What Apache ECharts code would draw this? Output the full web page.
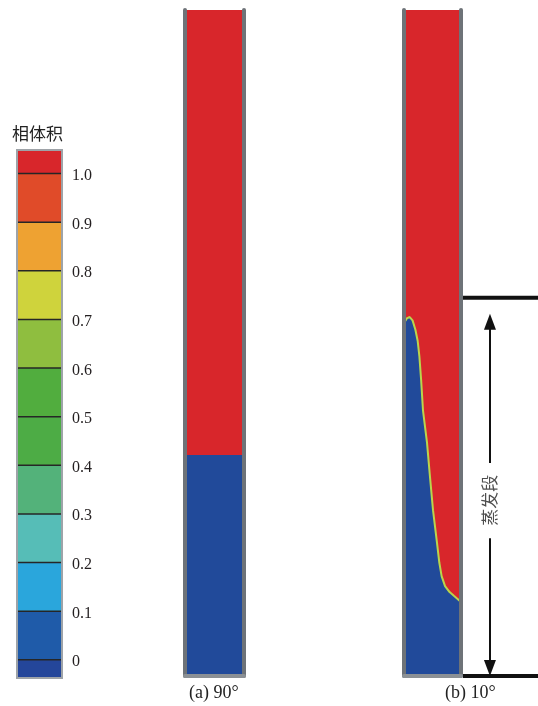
<!DOCTYPE html>
<html><head><meta charset="utf-8">
<script src="https://cdn.jsdelivr.net/npm/echarts@6/dist/echarts.min.js"></script>
<style>html,body{margin:0;padding:0;background:#fff}#c{width:538px;height:706px}</style>
</head><body><div id="c"></div>
<script>
// ---- colour bar ----
const cbTitle = '相体积';
const cbTicks = [0, 0.1, 0.2, 0.3, 0.4, 0.5, 0.6, 0.7, 0.8, 0.9, 1.0];
const cbLabels = ['0', '0.1', '0.2', '0.3', '0.4', '0.5', '0.6', '0.7', '0.8', '0.9', '1.0'];
const cbBounds = [-0.039, 0, 0.1, 0.2, 0.3, 0.4, 0.5, 0.6, 0.7, 0.8, 0.9, 1.0, 1.047];
const cbColors = ['#24469a', '#1f5ba9', '#2aa6dc', '#56bdb7', '#53b27a', '#4dac45',
                  '#51ad3e', '#8fbe3f', '#cfd33c', '#eea232', '#e04b29', '#d8262b'];
// ---- tube (a) 90° : liquid level (% of tube height) ----
const tubeACaption = '(a) 90°';
const tubeALiquid = 33.2;
// ---- tube (b) 10° : liquid/vapour interface, x = fraction of width, h = % of height ----
const tubeBCaption = '(b) 10°';
const tubeBx = [0, 0.05, 0.1, 0.15, 0.2, 0.24, 0.27, 0.30, 0.333, 0.404, 0.456, 0.509, 0.579, 0.62, 0.66, 0.72, 0.80, 0.88, 0.95, 1.0];
const tubeBh = [53.0, 53.7, 53.9, 53.4, 52.0, 50.3, 48.0, 44.5, 39.9, 35.0, 29.9, 24.9, 20.0, 17.0, 15.0, 13.5, 12.6, 12.0, 11.5, 11.1];
// ---- evaporator section annotation (% of tube height) ----
const evapLabel = '蒸发段';
const evapTop = 56.8;
const evapBottom = 0;
const arrowUpper = [32.0, 53.2];
const arrowLower = [20.7, 1.2];
const evapLabelH = 26.4;

const RED = '#d8262b', BLUE = '#214a9a';
const serif = 'Liberation Serif';
const cjk = 'Noto Sans CJK SC';

const hidden = { show: false };
function tubeX(grid) {
  return { type: 'value', gridIndex: grid, min: 0, max: 1, z: 5,
    axisLine: { show: true, onZero: false, lineStyle: { color: '#8b9095', width: 4 } },
    axisTick: hidden, axisLabel: hidden, splitLine: hidden };
}
function tubeY(grid, pos) {
  return { type: 'value', gridIndex: grid, min: 0, max: 100, position: pos, z: 5,
    axisLine: { show: true, onZero: false, lineStyle: { color: '#6e7378', width: 4 } },
    axisTick: hidden, axisLabel: hidden, splitLine: hidden };
}

const cbData = [];
for (let i = 0; i < cbColors.length; i++) {
  cbData.push({ value: [0.5, cbBounds[i], cbBounds[i + 1]], itemStyle: { color: cbColors[i] } });
}

const option = {
  animation: false,
  backgroundColor: '#fff',
  title: [
    { text: cbTitle, left: 12, top: 125, padding: 0,
      textStyle: { fontFamily: cjk, fontSize: 17, fontWeight: 'normal', color: '#222' } },
    { text: tubeACaption, left: 189, top: 684, padding: 0,
      textStyle: { fontFamily: serif, fontSize: 18, fontWeight: 'normal', color: '#222' } },
    { text: tubeBCaption, left: 445, top: 684, padding: 0,
      textStyle: { fontFamily: serif, fontSize: 18, fontWeight: 'normal', color: '#222' } }
  ],
  grid: [
    { left: 17, top: 150, width: 45, height: 528, show: true, z: 10,
      borderColor: '#9ea3a8', borderWidth: 2, backgroundColor: 'transparent' },
    { left: 185, top: 10, width: 59, height: 666 },
    { left: 404, top: 10, width: 57, height: 666 },
    { left: 459, top: 10, width: 79, height: 666 }
  ],
  xAxis: [
    { type: 'value', gridIndex: 0, min: 0, max: 1, show: false },
    tubeX(1), tubeX(2),
    { type: 'value', gridIndex: 3, min: 0, max: 1, show: false }
  ],
  yAxis: [
    { type: 'value', gridIndex: 0, min: cbBounds[0], max: cbBounds[cbBounds.length - 1], position: 'right',
      axisLine: hidden, axisTick: hidden, splitLine: hidden,
      axisLabel: { show: true, customValues: cbTicks, margin: 10,
        formatter: v => '{t|' + cbLabels[Math.round(v * 10)] + '}',
        rich: { t: { fontFamily: serif, fontSize: 16, color: '#231f20', padding: [6, 0, 0, 0] } },
        fontFamily: serif, fontSize: 16, color: '#231f20' } },
    tubeY(1, 'left'), tubeY(1, 'right'),
    tubeY(2, 'left'), tubeY(2, 'right'),
    { type: 'value', gridIndex: 3, min: 0, max: 100, show: false }
  ],
  series: [
    { type: 'custom', xAxisIndex: 0, yAxisIndex: 0, encode: { x: 0, y: [1, 2] },
      data: cbData,
      renderItem: (params, api) => {
        const lo = api.value(1), hi = api.value(2);
        const p0 = api.coord([0, hi]), p1 = api.coord([1, lo]);
        const children = [{ type: 'rect',
          shape: { x: p0[0], y: p0[1], width: p1[0] - p0[0], height: p1[1] - p0[1] },
          style: { fill: api.visual('color') } }];
        if (params.dataIndex < cbColors.length - 1) {
          children.push({ type: 'line', shape: { x1: p0[0], y1: p0[1], x2: p1[0], y2: p0[1] },
            style: { stroke: '#262626', lineWidth: 3 } });
        }
        return { type: 'group', children };
      } },
    // tube (a)
    { type: 'line', xAxisIndex: 1, yAxisIndex: 1, symbol: 'none', silent: true,
      data: [[0, 100], [1, 100]], lineStyle: { width: 0 }, areaStyle: { color: RED, opacity: 1 } },
    { type: 'line', xAxisIndex: 1, yAxisIndex: 1, symbol: 'none', silent: true,
      data: [[0, tubeALiquid], [1, tubeALiquid]], lineStyle: { width: 0 }, areaStyle: { color: BLUE, opacity: 1 } },
    // tube (b)
    { type: 'line', xAxisIndex: 2, yAxisIndex: 3, symbol: 'none', silent: true,
      data: [[0, 100], [1, 100]], lineStyle: { width: 0 }, areaStyle: { color: RED, opacity: 1 } },
    { type: 'line', xAxisIndex: 2, yAxisIndex: 3, symbol: 'none', silent: true,
      data: tubeBx.map((x, i) => [x, tubeBh[i]]),
      lineStyle: { width: 2, color: '#b9d54c' }, areaStyle: { color: BLUE, opacity: 1 } },
    // annotation
    { type: 'line', xAxisIndex: 3, yAxisIndex: 5, symbol: 'none', silent: true, clip: false,
      data: [[0.013, evapTop], [1, evapTop]], lineStyle: { width: 4, color: '#111' },
      markLine: { silent: true, symbol: ['none', 'triangle'], symbolSize: [12, 16],
        lineStyle: { color: '#111', width: 2, type: 'solid' }, label: hidden,
        data: [
          [{ coord: [0.392, arrowUpper[0]] }, { coord: [0.392, arrowUpper[1]] }],
          [{ coord: [0.392, arrowLower[0]] }, { coord: [0.392, arrowLower[1]] }]
        ] } },
    { type: 'line', xAxisIndex: 3, yAxisIndex: 5, symbol: 'none', silent: true, clip: false,
      data: [[0.05, evapBottom], [1, evapBottom]], lineStyle: { width: 4, color: '#111' } },
    { type: 'scatter', xAxisIndex: 3, yAxisIndex: 5, symbolSize: 0, silent: true,
      data: [[0.392, evapLabelH]],
      label: { show: true, position: 'inside', formatter: evapLabel, rotate: 90,
        fontFamily: cjk, fontSize: 17, color: '#222' } }
  ]
};
echarts.init(document.getElementById('c'), null, { renderer: 'canvas' }).setOption(option);
</script></body></html>
